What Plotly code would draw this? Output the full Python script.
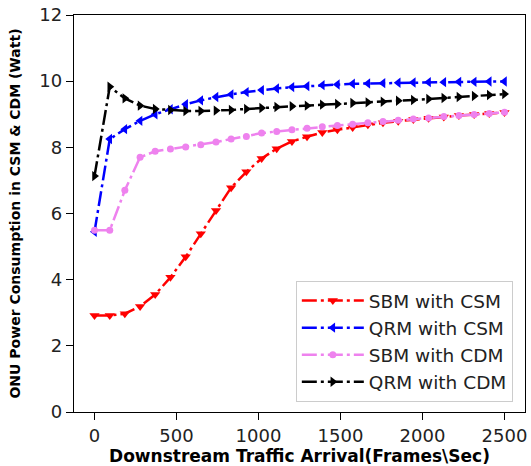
import plotly.graph_objects as go

# Downstream traffic arrival rate (frames/sec)
traffic = [0, 93, 185, 278, 370, 463, 556, 648, 741, 833, 926, 1019, 1111, 1204,
           1296, 1389, 1481, 1574, 1667, 1759, 1852, 1944, 2037, 2130, 2222, 2315,
           2407, 2500]

# ONU power consumption (Watt) per scheme
sbm_csm = [2.92, 2.92, 2.97, 3.19, 3.55, 4.07, 4.69, 5.39, 6.09, 6.78, 7.26, 7.66,
           7.96, 8.18, 8.32, 8.45, 8.53, 8.60, 8.68, 8.74, 8.79, 8.84, 8.88, 8.92,
           8.96, 8.99, 9.02, 9.05]
qrm_csm = [5.45, 8.25, 8.55, 8.80, 9.00, 9.15, 9.30, 9.42, 9.52, 9.60, 9.67, 9.73,
           9.78, 9.82, 9.85, 9.88, 9.90, 9.92, 9.93, 9.94, 9.95, 9.96, 9.97, 9.97,
           9.98, 9.98, 9.99, 9.99]
sbm_cdm = [5.49, 5.49, 6.70, 7.70, 7.88, 7.95, 8.01, 8.08, 8.16, 8.25, 8.33, 8.43,
           8.48, 8.53, 8.58, 8.62, 8.66, 8.70, 8.74, 8.78, 8.82, 8.86, 8.89, 8.93,
           8.96, 8.99, 9.02, 9.06]
qrm_cdm = [7.13, 9.83, 9.48, 9.26, 9.16, 9.13, 9.10, 9.10, 9.11, 9.13, 9.16, 9.19,
           9.22, 9.24, 9.26, 9.29, 9.31, 9.34, 9.36, 9.38, 9.41, 9.43, 9.46, 9.49,
           9.52, 9.55, 9.58, 9.61]

x_ticks = [0, 500, 1000, 1500, 2000, 2500]
y_ticks = [0, 2, 4, 6, 8, 10, 12]

series = [
    ("SBM with CSM", sbm_csm, "#ff0000", "triangle-down", 9),
    ("QRM with CSM", qrm_csm, "#0000ff", "triangle-left", 9),
    ("SBM with CDM", sbm_cdm, "#ee82ee", "circle", 7),
    ("QRM with CDM", qrm_cdm, "#000000", "triangle-right", 9),
]

FONT = "DejaVu Sans"
DASHDOT = "15px,4px,3px,4px"

fig = go.Figure()
for name, values, color, symbol, size in series:
    fig.add_trace(go.Scatter(
        x=traffic, y=values, name=name, mode="lines+markers",
        line=dict(color=color, width=2.5, dash=DASHDOT),
        marker=dict(symbol=symbol, size=size, color=color, line=dict(width=0)),
    ))

axis_common = dict(
    showline=True, linecolor="black", linewidth=1.3, mirror=True,
    ticks="outside", ticklen=7, tickwidth=1.3, tickcolor="black",
    showgrid=False, zeroline=False,
    tickfont=dict(family=FONT, size=18, color="#222222"),
)

fig.update_layout(
    width=531, height=466,
    margin=dict(l=74, r=4, t=13, b=54),
    paper_bgcolor="white", plot_bgcolor="white",
    font=dict(family=FONT, color="black"),
    xaxis=dict(
        range=[-125, 2625], tickvals=x_ticks, **axis_common,
        title=dict(text="Downstream Traffic Arrival(Frames\\Sec)",
                   font=dict(family=FONT, size=17, weight="bold"), standoff=1),
    ),
    yaxis=dict(
        range=[0, 12], tickvals=y_ticks, **axis_common,
        title=dict(text="ONU Power Consumption in CSM & CDM (Watt)",
                   font=dict(family=FONT, size=14, weight="bold"), standoff=15),
    ),
    legend=dict(
        x=0.973, y=0.025, xanchor="right", yanchor="bottom",
        bgcolor="rgba(255,255,255,0.85)", bordercolor="#cccccc", borderwidth=1,
        font=dict(family=FONT, size=18.5, color="#222222"),
        tracegroupgap=0, itemwidth=62,
    ),
    showlegend=True,
)

fig.write_html("out.html")
